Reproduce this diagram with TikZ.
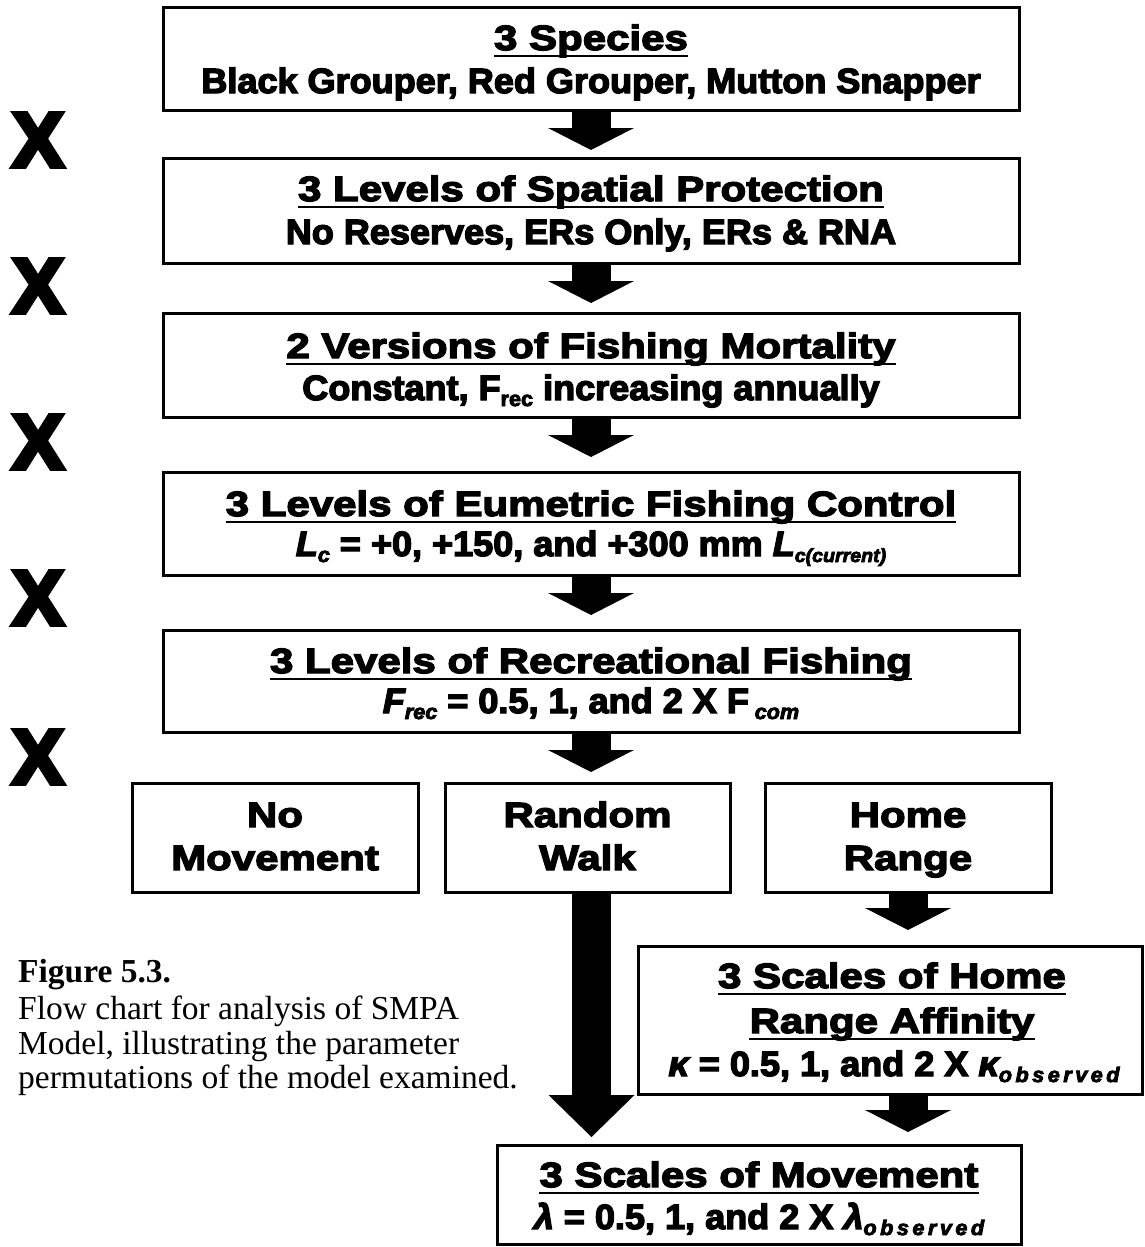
\documentclass[tikz,border=0pt]{standalone}
\usepackage{fontspec}
\setmainfont{Liberation Sans}
\newfontfamily\ttlfont{Liberation Sans}[UprightFont=* Bold, ItalicFont=* Bold Italic, FakeStretch=1.2, FakeBold=4]
\newfontfamily\bdyfont{Liberation Sans}[UprightFont=* Bold, ItalicFont=* Bold Italic, FakeStretch=1.03, FakeBold=4]
\newfontfamily\xfont{Liberation Sans}[UprightFont=* Bold, FakeBold=6]
\newfontfamily\capfont{Liberation Serif}
\usetikzlibrary{arrows.meta}
\newcommand\sbr[2][21]{\raisebox{-6pt}{\fontsize{#1}{#1}\selectfont #2}}
\begin{document}
\begin{tikzpicture}[x=1pt,y=-1pt,
  box/.style={draw=black, line width=3pt, fill=white, inner sep=0pt, outer sep=0pt},
  ttl/.style={font={\ttlfont\fontsize{35}{40}\selectfont}, inner sep=0pt, anchor=base},
  bdy/.style={font={\bdyfont\fontsize{35}{40}\selectfont}, inner sep=0pt, anchor=base},
  uln/.style={line width=2.5pt},
  blockarrow/.style={line width=39pt, -{Triangle[width=86pt,length=22pt,line width=0pt]}},
  bigarrow/.style={line width=39pt, -{Triangle[width=86pt,length=42pt,line width=0pt]}},
  xmark/.style={font={\xfont\fontsize{77}{80}\selectfont}, inner sep=0pt},
  captxt/.style={font={\capfont\fontsize{33.5}{36}\selectfont}, inner sep=0pt, anchor=base west}
]
\fill[white] (0,0) rectangle (1145,1247);
\useasboundingbox (0,0) rectangle (1145,1247);

% boxes
\node[box, minimum width=856pt, minimum height=102pt] (b1) at (591,59) {};
\node[box, minimum width=856pt, minimum height=105pt] (b2) at (591,210.5) {};
\node[box, minimum width=856pt, minimum height=104pt] (b3) at (591,365) {};
\node[box, minimum width=856pt, minimum height=103pt] (b4) at (591,523.5) {};
\node[box, minimum width=856pt, minimum height=102pt] (b5) at (591,681) {};
\node[box, minimum width=286pt, minimum height=109pt] (nm) at (275,837.5) {};
\node[box, minimum width=285pt, minimum height=109pt] (rw) at (587.5,837.5) {};
\node[box, minimum width=286pt, minimum height=109pt] (hr) at (908,837.5) {};
\node[box, minimum width=504pt, minimum height=148pt] (af) at (890,1020) {};
\node[box, minimum width=524pt, minimum height=99pt] (sm) at (759,1194.5) {};

% texts
\node[ttl] (b1t) at (591,50) {3 Species};
\node[bdy] (b1s) at (591,93) {Black Grouper, Red Grouper, Mutton Snapper};
\node[ttl] (b2t) at (591,201) {3 Levels of Spatial Protection};
\node[bdy] (b2s) at (591,244) {No Reserves, ERs Only, ERs \& RNA};
\node[ttl] (b3t) at (591,358) {2 Versions of Fishing Mortality};
\node[bdy] (b3s) at (591,400) {Constant, F\sbr{rec} increasing annually};
\node[ttl] (b4t) at (591,516) {3 Levels of Eumetric Fishing Control};
\node[bdy] (b4s) at (591,556) {{\itshape L\sbr{c}} = +0, +150, and +300 mm {\itshape L\sbr[19]{c(current)}}};
\node[ttl] (b5t) at (591,673) {3 Levels of Recreational Fishing};
\node[bdy] (b5s) at (591,713) {{\itshape F\sbr{rec}} = 0.5, 1, and 2 X F\,{\itshape\sbr{com}}};
\node[ttl] (nm1) at (275,827) {No};
\node[ttl] (nm2) at (275,870) {Movement};
\node[ttl] (rw1) at (587.5,827) {Random};
\node[ttl] (rw2) at (587.5,870) {Walk};
\node[ttl] (hr1) at (908,827) {Home};
\node[ttl] (hr2) at (908,870) {Range};
\node[ttl] (af1) at (892,988) {3 Scales of Home};
\node[ttl] (af2) at (892,1033) {Range Affinity};
\node[bdy] (af3) at (894,1076) {{\itshape κ} = 0.5, 1, and 2 X {\itshape κ\sbr{o\,b\,s\,e\,r\,v\,e\,d}}};
\node[ttl] (smt) at (759,1187) {3 Scales of Movement};
\node[bdy] (sms) at (759,1229) {{\itshape λ} = 0.5, 1, and 2 X {\itshape λ\sbr{o\,b\,s\,e\,r\,v\,e\,d}}};

% underlines
\foreach \t in {b1t,b2t,b3t,b4t,b5t,af1,af2,smt}
  \draw[uln] ([yshift=-6pt]\t.base west) -- ([yshift=-6pt]\t.base east);

% arrows
\draw[blockarrow, shorten >=8pt] (b1.south) -- (b2.north);
\draw[blockarrow, shorten >=10pt] (b2.south) -- (b3.north);
\draw[blockarrow, shorten >=15pt] (b3.south) -- (b4.north);
\draw[blockarrow, shorten >=15pt] (b4.south) -- (b5.north);
\draw[blockarrow, shorten >=11pt] (b5.south) -- (b5.south |- rw.north);
\draw[blockarrow, shorten >=16pt] (hr.south) -- (hr.south |- af.north);
\draw[blockarrow, shorten >=13pt] (af.south -| hr.south) -- (hr.south |- sm.north);
\draw[bigarrow, shorten >=8pt] ([xshift=4pt]rw.south) -- ([xshift=4pt]rw.south |- sm.north);

% multiplication marks
\node[xmark] (x1) at (38,140) {X};
\node[xmark] (x2) at (38,286) {X};
\node[xmark] (x3) at (38,442) {X};
\node[xmark] (x4) at (38,598) {X};
\node[xmark] (x5) at (38,757) {X};

% caption
\node[captxt] (c1) at (18,982) {\bfseries Figure 5.3.};
\node[captxt] (c2) at (18,1019) {Flow chart for analysis of SMPA};
\node[captxt] (c3) at (18,1054) {Model, illustrating the parameter};
\node[captxt] (c4) at (18,1088) {permutations of the model examined.};
\end{tikzpicture}
\end{document}
